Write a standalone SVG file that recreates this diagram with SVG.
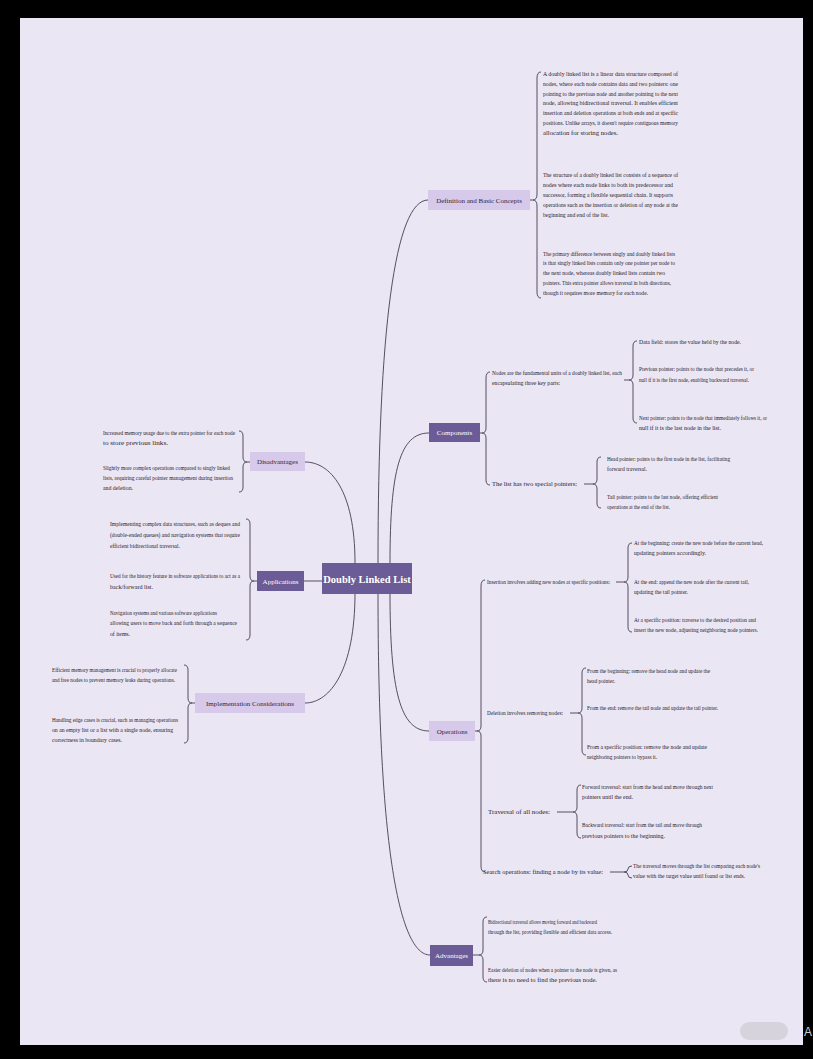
<svg xmlns="http://www.w3.org/2000/svg" width="813" height="1059" viewBox="0 0 813 1059">
<style>
.t{font-family:"Liberation Serif","Times New Roman",serif;font-size:6px;fill:#26222e}
.lb{font-family:"Liberation Serif","Times New Roman",serif;font-size:7px;text-anchor:middle}
.dk rect{fill:#6b5b96}
.dk text{fill:#ffffff}
.lt rect{fill:#d6c9ea}
.lt text{fill:#2f2645}
.cn path{fill:none;stroke:#433d52;stroke-width:0.9}
</style>
<rect x="0" y="0" width="813" height="1059" fill="#000"/>
<rect x="20" y="18" width="783" height="1027" fill="#ebe6f3"/>
<rect x="740" y="1022" width="48" height="18" rx="9" fill="#d6d3dc"/>
<text x="804" y="1036" style="font-family:'Liberation Sans',sans-serif;font-size:12px;fill:#cfcfcf">A</text>

<g id="connectors" class="cn">
<path d="M378 563 C378 330 395 200 428 200"/>
<path d="M390 563 C390 470 400 433 429 433"/>
<path d="M355 563 C355 490 330 462 305 462"/>
<path d="M304 581 L322 581"/>
<path d="M355 593 C355 670 330 703 305 703"/>
<path d="M390 593 C390 690 400 731 429 731"/>
<path d="M378 593 C378 850 400 955 430 955"/>
<path d="M530 200 L533 200 Q537 200 537 194 L537 78 Q537 72 541 72 M537 206 Q537 200 533 200 M537 206 L537 292 Q537 298 541 298"/>
<path d="M480 433 L482 433 Q486 433 486 428 L486 378 Q486 372 490 372 M486 438 Q486 433 482 433 M486 438 L486 480 Q486 485 490 485"/>
<path d="M624 380 L629 380 Q633 380 633 375 L633 346 Q633 341 637 341 M633 385 Q633 380 629 380 M633 385 L633 418 Q633 423 637 423"/>
<path d="M584 484 L593 484 Q597 484 597 479 L597 462 Q597 457 601 457 M597 489 Q597 484 593 484 M597 489 L597 503 Q597 508 601 508"/>
<path d="M475 731 L477 731 Q481 731 481 726 L481 586 Q481 580 485 580 M481 736 Q481 731 477 731 M481 736 L481 866 Q481 872 485 872"/>
<path d="M616 582 L624 582 Q628 582 628 577 L628 548 Q628 543 632 543 M628 587 Q628 582 624 582 M628 587 L628 627 Q628 632 632 632"/>
<path d="M570 713 L578 713 Q582 713 582 708 L582 673 Q582 668 586 668 M582 718 Q582 713 578 713 M582 718 L582 750 Q582 755 586 755"/>
<path d="M557 812 L573 812 Q577 812 577 807 L577 790 Q577 785 581 785 M577 817 Q577 812 573 812 M577 817 L577 833 Q577 838 581 838"/>
<path d="M610 872 L624 872 Q628 872 628 869 Q628 866 632 866 M628 875 Q628 872 624 872 M628 875 Q628 878 632 878"/>
<path d="M473 955 L479 955 Q483 955 483 950 L483 922 Q483 917 487 917 M483 960 Q483 955 479 955 M483 960 L483 977 Q483 982 487 982"/>
<path d="M250 462 L247 462 Q243 462 243 457 L243 436 Q243 431 239 431 M243 467 Q243 462 247 462 M243 467 L243 487 Q243 492 239 492"/>
<path d="M257 581 L254 581 Q250 581 250 576 L250 524 Q250 519 246 519 M250 586 Q250 581 254 581 M250 586 L250 635 Q250 640 246 640"/>
<path d="M195 703 L192 703 Q188 703 188 698 L188 670 Q188 665 184 665 M188 708 Q188 703 192 703 M188 708 L188 738 Q188 743 184 743"/>
</g>

<g id="root" class="dk">
<rect x="322" y="563" width="90" height="31"/>
<text class="lb" x="367" y="582.5" style="font-size:10.5px;font-weight:bold">Doubly Linked List</text>
</g>

<g id="definition" class="lt">
<rect x="428" y="190" width="102" height="20"/>
<text class="lb" x="479" y="202.5">Definition and Basic Concepts</text>
</g>
<g id="definition-text">
<text class="t" x="543" y="76" textLength="135" lengthAdjust="spacingAndGlyphs">A doubly linked list is a linear data structure composed of</text>
<text class="t" x="543" y="86" textLength="135" lengthAdjust="spacingAndGlyphs">nodes, where each node contains data and two pointers: one</text>
<text class="t" x="543" y="96" textLength="135" lengthAdjust="spacingAndGlyphs">pointing to the previous node and another pointing to the next</text>
<text class="t" x="543" y="105" textLength="135" lengthAdjust="spacingAndGlyphs">node, allowing bidirectional traversal. It enables efficient</text>
<text class="t" x="543" y="115" textLength="135" lengthAdjust="spacingAndGlyphs">insertion and deletion operations at both ends and at specific</text>
<text class="t" x="543" y="125" textLength="135" lengthAdjust="spacingAndGlyphs">positions. Unlike arrays, it doesn't require contiguous memory</text>
<text class="t" x="543" y="135" textLength="75" lengthAdjust="spacingAndGlyphs">allocation for storing nodes.</text>
<text class="t" x="543" y="177" textLength="135" lengthAdjust="spacingAndGlyphs">The structure of a doubly linked list consists of a sequence of</text>
<text class="t" x="543" y="187" textLength="130" lengthAdjust="spacingAndGlyphs">nodes where each node links to both its predecessor and</text>
<text class="t" x="543" y="197" textLength="130" lengthAdjust="spacingAndGlyphs">successor, forming a flexible sequential chain. It supports</text>
<text class="t" x="543" y="207" textLength="135" lengthAdjust="spacingAndGlyphs">operations such as the insertion or deletion of any node at the</text>
<text class="t" x="543" y="217" textLength="66" lengthAdjust="spacingAndGlyphs">beginning and end of the list.</text>
<text class="t" x="543" y="256" textLength="132" lengthAdjust="spacingAndGlyphs">The primary difference between singly and doubly linked lists</text>
<text class="t" x="543" y="265" textLength="132" lengthAdjust="spacingAndGlyphs">is that singly linked lists contain only one pointer per node to</text>
<text class="t" x="543" y="275" textLength="122" lengthAdjust="spacingAndGlyphs">the next node, whereas doubly linked lists contain two</text>
<text class="t" x="543" y="285" textLength="128" lengthAdjust="spacingAndGlyphs">pointers. This extra pointer allows traversal in both directions,</text>
<text class="t" x="543" y="295" textLength="105" lengthAdjust="spacingAndGlyphs">though it requires more memory for each node.</text>
</g>

<g id="components" class="dk">
<rect x="429" y="423" width="51" height="19"/>
<text class="lb" x="454.5" y="435">Components</text>
</g>
<g id="components-text">
<text class="t" x="492" y="375" textLength="130" lengthAdjust="spacingAndGlyphs">Nodes are the fundamental units of a doubly linked list, each</text>
<text class="t" x="492" y="385" textLength="68" lengthAdjust="spacingAndGlyphs">encapsulating three key parts:</text>
<text class="t" x="639" y="344" textLength="102" lengthAdjust="spacingAndGlyphs">Data field: stores the value held by the node.</text>
<text class="t" x="639" y="371" textLength="115" lengthAdjust="spacingAndGlyphs">Previous pointer: points to the node that precedes it, or</text>
<text class="t" x="639" y="382" textLength="110" lengthAdjust="spacingAndGlyphs">null if it is the first node, enabling backward traversal.</text>
<text class="t" x="639" y="420" textLength="128" lengthAdjust="spacingAndGlyphs">Next pointer: points to the node that immediately follows it, or</text>
<text class="t" x="639" y="430" textLength="82" lengthAdjust="spacingAndGlyphs">null if it is the last node in the list.</text>
<text class="t" x="492" y="486" textLength="85" lengthAdjust="spacingAndGlyphs">The list has two special pointers:</text>
<text class="t" x="607" y="461" textLength="123" lengthAdjust="spacingAndGlyphs">Head pointer: points to the first node in the list, facilitating</text>
<text class="t" x="607" y="471" textLength="40" lengthAdjust="spacingAndGlyphs">forward traversal.</text>
<text class="t" x="607" y="499" textLength="111" lengthAdjust="spacingAndGlyphs">Tail pointer: points to the last node, offering efficient</text>
<text class="t" x="607" y="509" textLength="63" lengthAdjust="spacingAndGlyphs">operations at the end of the list.</text>
</g>

<g id="operations" class="lt">
<rect x="429" y="721" width="46" height="20"/>
<text class="lb" x="452" y="733.5">Operations</text>
</g>
<g id="operations-text">
<text class="t" x="487" y="584" textLength="123" lengthAdjust="spacingAndGlyphs">Insertion involves adding new nodes at specific positions:</text>
<text class="t" x="634" y="545" textLength="129" lengthAdjust="spacingAndGlyphs">At the beginning: create the new node before the current head,</text>
<text class="t" x="634" y="555" textLength="72" lengthAdjust="spacingAndGlyphs">updating pointers accordingly.</text>
<text class="t" x="634" y="584" textLength="115" lengthAdjust="spacingAndGlyphs">At the end: append the new node after the current tail,</text>
<text class="t" x="634" y="594" textLength="54" lengthAdjust="spacingAndGlyphs">updating the tail pointer.</text>
<text class="t" x="634" y="622" textLength="122" lengthAdjust="spacingAndGlyphs">At a specific position: traverse to the desired position and</text>
<text class="t" x="634" y="632" textLength="124" lengthAdjust="spacingAndGlyphs">insert the new node, adjusting neighboring node pointers.</text>
<text class="t" x="487" y="715" textLength="76" lengthAdjust="spacingAndGlyphs">Deletion involves removing nodes:</text>
<text class="t" x="587" y="673" textLength="123" lengthAdjust="spacingAndGlyphs">From the beginning: remove the head node and update the</text>
<text class="t" x="587" y="683" textLength="28" lengthAdjust="spacingAndGlyphs">head pointer.</text>
<text class="t" x="587" y="710" textLength="131" lengthAdjust="spacingAndGlyphs">From the end: remove the tail node and update the tail pointer.</text>
<text class="t" x="587" y="749" textLength="120" lengthAdjust="spacingAndGlyphs">From a specific position: remove the node and update</text>
<text class="t" x="587" y="759" textLength="70" lengthAdjust="spacingAndGlyphs">neighboring pointers to bypass it.</text>
<text class="t" x="488" y="814" textLength="62" lengthAdjust="spacingAndGlyphs">Traversal of all nodes:</text>
<text class="t" x="582" y="789" textLength="131" lengthAdjust="spacingAndGlyphs">Forward traversal: start from the head and move through next</text>
<text class="t" x="582" y="799" textLength="51" lengthAdjust="spacingAndGlyphs">pointers until the end.</text>
<text class="t" x="582" y="827" textLength="120" lengthAdjust="spacingAndGlyphs">Backward traversal: start from the tail and move through</text>
<text class="t" x="582" y="838" textLength="83" lengthAdjust="spacingAndGlyphs">previous pointers to the beginning.</text>
<text class="t" x="483" y="874" textLength="120" lengthAdjust="spacingAndGlyphs">Search operations: finding a node by its value:</text>
<text class="t" x="633" y="868" textLength="127" lengthAdjust="spacingAndGlyphs">The traversal moves through the list comparing each node's</text>
<text class="t" x="633" y="878" textLength="112" lengthAdjust="spacingAndGlyphs">value with the target value until found or list ends.</text>
</g>

<g id="advantages" class="dk">
<rect x="430" y="945" width="43" height="21"/>
<text class="lb" x="451.5" y="958">Advantages</text>
</g>
<g id="advantages-text">
<text class="t" x="488" y="924" textLength="109" lengthAdjust="spacingAndGlyphs">Bidirectional traversal allows moving forward and backward</text>
<text class="t" x="488" y="934" textLength="124" lengthAdjust="spacingAndGlyphs">through the list, providing flexible and efficient data access.</text>
<text class="t" x="488" y="972" textLength="129" lengthAdjust="spacingAndGlyphs">Easier deletion of nodes when a pointer to the node is given, as</text>
<text class="t" x="488" y="982" textLength="109" lengthAdjust="spacingAndGlyphs">there is no need to find the previous node.</text>
</g>

<g id="disadvantages" class="lt">
<rect x="250" y="452" width="55" height="19"/>
<text class="lb" x="277.5" y="464">Disadvantages</text>
</g>
<g id="disadvantages-text">
<text class="t" x="103" y="435" textLength="132" lengthAdjust="spacingAndGlyphs">Increased memory usage due to the extra pointer for each node</text>
<text class="t" x="103" y="445" textLength="65" lengthAdjust="spacingAndGlyphs">to store previous links.</text>
<text class="t" x="103" y="470" textLength="127" lengthAdjust="spacingAndGlyphs">Slightly more complex operations compared to singly linked</text>
<text class="t" x="103" y="480" textLength="130" lengthAdjust="spacingAndGlyphs">lists, requiring careful pointer management during insertion</text>
<text class="t" x="103" y="490" textLength="30" lengthAdjust="spacingAndGlyphs">and deletion.</text>
</g>

<g id="applications" class="dk">
<rect x="257" y="571" width="47" height="20"/>
<text class="lb" x="280.5" y="583.5">Applications</text>
</g>
<g id="applications-text">
<text class="t" x="110" y="526" textLength="130" lengthAdjust="spacingAndGlyphs">Implementing complex data structures, such as deques and</text>
<text class="t" x="110" y="537" textLength="130" lengthAdjust="spacingAndGlyphs">(double-ended queues) and navigation systems that require</text>
<text class="t" x="110" y="548" textLength="70" lengthAdjust="spacingAndGlyphs">efficient bidirectional traversal.</text>
<text class="t" x="110" y="578" textLength="130" lengthAdjust="spacingAndGlyphs">Used for the history feature in software applications to act as a</text>
<text class="t" x="110" y="589" textLength="43" lengthAdjust="spacingAndGlyphs">back/forward list.</text>
<text class="t" x="110" y="615" textLength="107" lengthAdjust="spacingAndGlyphs">Navigation systems and various software applications</text>
<text class="t" x="110" y="625" textLength="127" lengthAdjust="spacingAndGlyphs">allowing users to move back and forth through a sequence</text>
<text class="t" x="110" y="636" textLength="20" lengthAdjust="spacingAndGlyphs">of items.</text>
</g>

<g id="implementation" class="lt">
<rect x="195" y="693" width="110" height="20"/>
<text class="lb" x="250" y="705.5">Implementation Considerations</text>
</g>
<g id="implementation-text">
<text class="t" x="52" y="672" textLength="125" lengthAdjust="spacingAndGlyphs">Efficient memory management is crucial to properly allocate</text>
<text class="t" x="52" y="682" textLength="123" lengthAdjust="spacingAndGlyphs">and free nodes to prevent memory leaks during operations.</text>
<text class="t" x="52" y="722" textLength="126" lengthAdjust="spacingAndGlyphs">Handling edge cases is crucial, such as managing operations</text>
<text class="t" x="52" y="732" textLength="121" lengthAdjust="spacingAndGlyphs">on an empty list or a list with a single node, ensuring</text>
<text class="t" x="52" y="742" textLength="70" lengthAdjust="spacingAndGlyphs">correctness in boundary cases.</text>
</g>
</svg>
